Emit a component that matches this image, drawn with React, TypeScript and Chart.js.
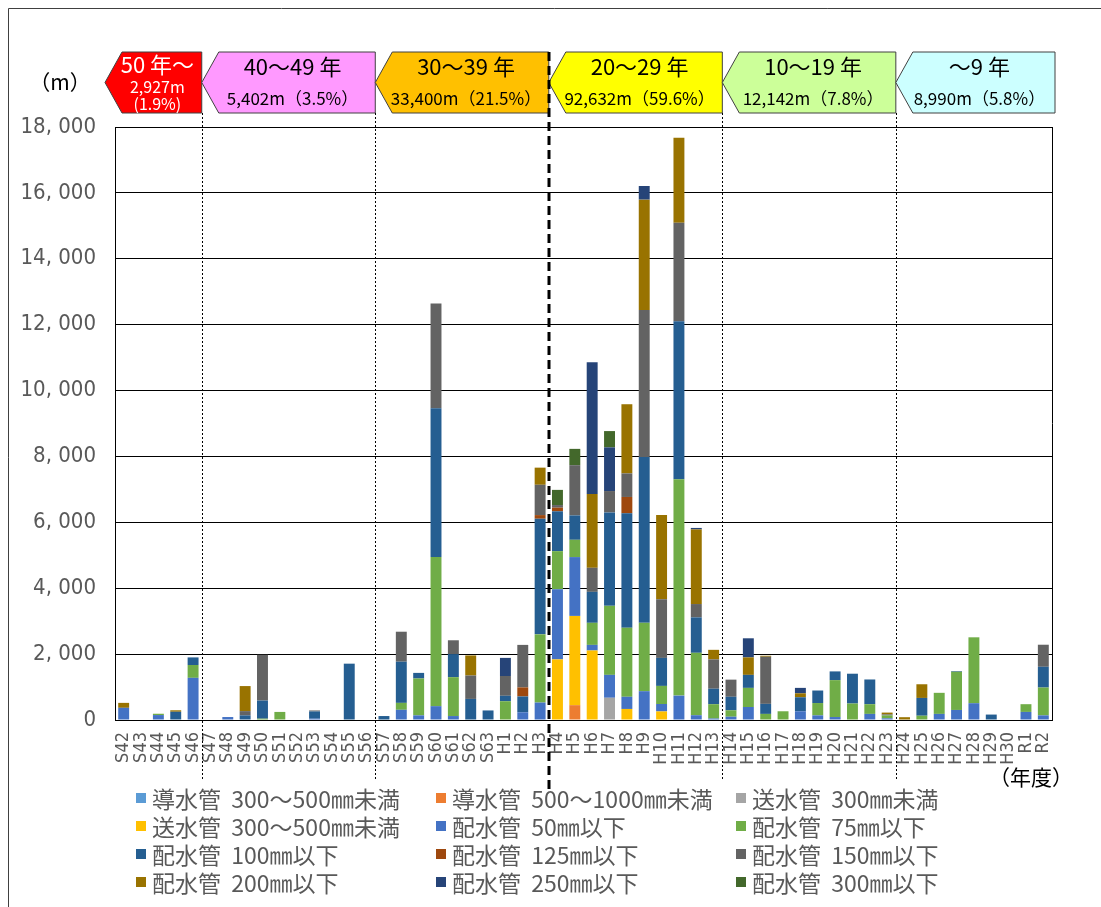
import React, { useEffect, useRef } from "react";
import { Chart, registerables } from "chart.js";

Chart.register(...registerables);

// ---------- data ----------
const categories = [
  "S42", "S43", "S44", "S45", "S46", "S47", "S48", "S49", "S50", "S51",
  "S52", "S53", "S54", "S55", "S56", "S57", "S58", "S59", "S60", "S61",
  "S62", "S63", "H1", "H2", "H3", "H4", "H5", "H6", "H7", "H8",
  "H9", "H10", "H11", "H12", "H13", "H14", "H15", "H16", "H17", "H18",
  "H19", "H20", "H21", "H22", "H23", "H24", "H25", "H26", "H27", "H28",
  "H29", "H30", "R1", "R2",
];

const dou300to500 = [
  0, 0, 0, 0, 0, 0, 0, 0, 0, 0,
  0, 0, 0, 0, 0, 0, 0, 0, 0, 0,
  0, 0, 0, 0, 0, 0, 0, 0, 0, 0,
  0, 0, 0, 0, 0, 0, 0, 0, 0, 0,
  0, 0, 0, 0, 0, 0, 0, 0, 0, 0,
  0, 0, 0, 0,
];
const dou500to1000 = [
  0, 0, 0, 0, 0, 0, 0, 0, 0, 0,
  0, 0, 0, 0, 0, 0, 0, 0, 0, 0,
  0, 0, 0, 0, 0, 0, 450, 0, 0, 0,
  0, 0, 0, 0, 0, 0, 0, 0, 0, 0,
  0, 0, 0, 0, 0, 0, 0, 0, 0, 0,
  0, 0, 0, 0,
];
const sou300under = [
  0, 0, 0, 0, 0, 0, 0, 0, 0, 0,
  0, 0, 0, 0, 0, 0, 0, 0, 0, 0,
  0, 0, 0, 0, 0, 0, 0, 0, 675, 0,
  0, 0, 0, 0, 0, 0, 0, 0, 0, 0,
  0, 0, 0, 0, 0, 0, 0, 0, 0, 0,
  0, 0, 0, 0,
];
const sou300to500 = [
  0, 0, 0, 0, 0, 0, 0, 0, 0, 0,
  0, 0, 0, 0, 0, 0, 0, 0, 0, 0,
  0, 0, 0, 0, 0, 1840, 2710, 2110, 0, 335,
  0, 260, 0, 0, 0, 0, 0, 0, 0, 0,
  0, 0, 0, 0, 0, 0, 0, 0, 0, 0,
  0, 0, 0, 0,
];
const hai50 = [
  370, 0, 150, 0, 1280, 0, 90, 0, 0, 0,
  0, 40, 0, 0, 0, 0, 310, 140, 420, 120,
  0, 0, 0, 235, 530, 2130, 1785, 170, 695, 370,
  875, 225, 740, 145, 45, 100, 395, 0, 0, 265,
  140, 90, 0, 185, 50, 0, 0, 185, 305, 510,
  0, 0, 245, 140,
];
const hai75 = [
  0, 0, 40, 0, 390, 0, 0, 0, 40, 245,
  0, 0, 0, 0, 0, 0, 210, 1120, 4530, 1180,
  0, 0, 570, 0, 2070, 1155, 525, 670, 2095, 2095,
  2075, 550, 6570, 1895, 435, 195, 580, 185, 265, 0,
  375, 1120, 500, 295, 90, 0, 130, 640, 1160, 2000,
  0, 0, 235, 845,
];
const hai100 = [
  0, 0, 0, 250, 230, 0, 0, 140, 550, 0,
  0, 220, 0, 1710, 0, 120, 1250, 170, 4510, 700,
  640, 290, 165, 480, 3510, 1210, 740, 940, 2835, 3475,
  5035, 850, 4790, 1075, 470, 410, 395, 305, 0, 425,
  380, 265, 905, 750, 0, 0, 540, 0, 20, 0,
  165, 0, 0, 630,
];
const hai125 = [
  0, 0, 0, 0, 0, 0, 0, 0, 0, 0,
  0, 0, 0, 0, 0, 0, 0, 0, 0, 0,
  0, 0, 0, 275, 110, 110, 0, 0, 0, 495,
  0, 0, 0, 0, 0, 0, 0, 0, 0, 0,
  0, 0, 0, 0, 0, 0, 0, 0, 0, 0,
  0, 0, 0, 0,
];
const hai150 = [
  0, 0, 0, 0, 0, 0, 0, 130, 1390, 0,
  0, 30, 0, 0, 0, 0, 910, 0, 3180, 420,
  710, 0, 600, 1290, 920, 80, 1525, 730, 650, 715,
  4460, 1780, 2990, 405, 890, 520, 0, 1430, 0, 0,
  0, 0, 0, 0, 30, 0, 0, 0, 0, 0,
  0, 0, 0, 670,
];
const hai200 = [
  150, 0, 0, 45, 0, 0, 0, 760, 0, 0,
  0, 0, 0, 0, 0, 0, 0, 0, 0, 0,
  610, 0, 0, 0, 520, 0, 0, 2240, 0, 2100,
  3350, 2560, 2580, 2265, 290, 0, 530, 30, 0, 120,
  0, 0, 0, 0, 55, 85, 415, 0, 0, 0,
  0, 0, 0, 0,
];
const hai250 = [
  0, 0, 0, 0, 0, 0, 0, 0, 0, 0,
  0, 0, 0, 0, 0, 0, 0, 0, 0, 0,
  0, 0, 550, 0, 0, 0, 0, 4000, 1325, 0,
  415, 0, 0, 45, 0, 0, 580, 0, 0, 165,
  0, 0, 0, 0, 0, 0, 0, 0, 0, 0,
  0, 0, 0, 0,
];
const hai300 = [
  0, 0, 0, 0, 0, 0, 0, 0, 0, 0,
  0, 0, 0, 0, 0, 0, 0, 0, 0, 0,
  0, 0, 0, 0, 0, 460, 495, 0, 495, 0,
  0, 0, 0, 0, 0, 0, 0, 0, 0, 0,
  0, 0, 0, 0, 0, 0, 0, 0, 0, 0,
  0, 0, 0, 0,
];

const seriesLabels = [
  "導水管  300～500㎜未満",
  "導水管  500～1000㎜未満",
  "送水管  300㎜未満",
  "送水管  300～500㎜未満",
  "配水管  50㎜以下",
  "配水管  75㎜以下",
  "配水管  100㎜以下",
  "配水管  125㎜以下",
  "配水管  150㎜以下",
  "配水管  200㎜以下",
  "配水管  250㎜以下",
  "配水管  300㎜以下",
];
const seriesValues = [
  dou300to500, dou500to1000, sou300under, sou300to500,
  hai50, hai75, hai100, hai125, hai150, hai200, hai250, hai300,
];
const seriesColors = [
  "#5B9BD5", "#ED7D31", "#A5A5A5", "#FFC000",
  "#4472C4", "#70AD47", "#255E91", "#9E480E",
  "#636363", "#997300", "#264478", "#43682B",
];

const yTicks = [0, 2000, 4000, 6000, 8000, 10000, 12000, 14000, 16000, 18000];

const bandTitles = ["50 年～", "40～49 年", "30～39 年", "20～29 年", "10～19 年", "～9 年"];
const bandLengths = ["2,927m", "5,402m", "33,400m", "92,632m", "12,142m", "8,990m"];
const bandShares = ["(1.9%)", "（3.5%）", "（21.5%）", "（59.6%）", "（7.8%）", "（5.8%）"];
const bandStarts = ["S42", "S47", "S57", "H4", "H14", "H24"];
const bandColors = ["#FF0000", "#FF99FF", "#FFC000", "#FFFF00", "#CCFF99", "#CCFFFF"];

const JP = '"Noto Sans CJK JP", "Noto Sans", sans-serif';
const NARROW = '"Liberation Sans Narrow", "DejaVu Sans Condensed", "Noto Sans CJK JP", sans-serif';

const decorPlugin = {
  id: "decor",
  afterDraw(chart: any) {
    const ctx = chart.ctx as CanvasRenderingContext2D;
    const area = chart.chartArea;
    const xs = chart.scales.x;
    const step = xs.getPixelForValue(1) - xs.getPixelForValue(0);
    const boundary = (i: number) => xs.getPixelForValue(i) - step / 2;
    ctx.save();

    // outer frame
    ctx.strokeStyle = "#404040";
    ctx.lineWidth = 1;
    ctx.beginPath();
    ctx.moveTo(8.5, 907);
    ctx.lineTo(8.5, 8.5);
    ctx.lineTo(1101, 8.5);
    ctx.stroke();

    // plot frame (right side)
    ctx.strokeStyle = "#000";
    ctx.beginPath();
    ctx.moveTo(Math.round(area.right) + 0.5, area.top);
    ctx.lineTo(Math.round(area.right) + 0.5, area.bottom);
    ctx.stroke();

    // banners
    const top = 52, bot = 113, mid = (top + bot) / 2;
    for (let b = 0; b < bandTitles.length; b++) {
      const s = categories.indexOf(bandStarts[b]);
      const e = b < bandStarts.length - 1 ? categories.indexOf(bandStarts[b + 1]) : categories.length;
      const tip = b === 0 ? area.left - 10 : boundary(s);
      const right = b === bandStarts.length - 1 ? area.right + 3 : boundary(e);
      ctx.beginPath();
      ctx.moveTo(tip, mid);
      ctx.lineTo(tip + 17, top);
      ctx.lineTo(right, top);
      ctx.lineTo(right, bot);
      ctx.lineTo(tip + 17, bot);
      ctx.closePath();
      ctx.fillStyle = bandColors[b];
      ctx.fill();
      ctx.strokeStyle = "#404040";
      ctx.lineWidth = 1;
      ctx.stroke();

      const cx = (tip + right) / 2 + 4;
      ctx.textAlign = "center";
      ctx.textBaseline = "middle";
      if (b === 0) {
        ctx.fillStyle = "#FFFFFF";
        ctx.font = `22px ${JP}`;
        ctx.fillText(bandTitles[b], cx, 65);
        ctx.font = `16px ${JP}`;
        ctx.fillText(bandLengths[b], cx, 87);
        ctx.fillText(bandShares[b], cx, 104);
      } else {
        ctx.fillStyle = "#000000";
        ctx.font = `22px ${JP}`;
        ctx.fillText(bandTitles[b], cx, 67);
        ctx.font = `17px ${JP}`;
        ctx.fillText(bandLengths[b] + bandShares[b], cx, 99);
      }
    }

    // dividers
    for (let b = 1; b < bandStarts.length; b++) {
      const x = Math.round(boundary(categories.indexOf(bandStarts[b])));
      ctx.beginPath();
      if (bandStarts[b] === "H4") {
        ctx.strokeStyle = "#000";
        ctx.lineWidth = 3;
        ctx.setLineDash([9, 5]);
        ctx.moveTo(x, top);
        ctx.lineTo(x, 790);
      } else {
        ctx.strokeStyle = "#000";
        ctx.lineWidth = 1;
        ctx.setLineDash([2, 2]);
        ctx.moveTo(x + 0.5, bot);
        ctx.lineTo(x + 0.5, 780);
      }
      ctx.stroke();
    }
    ctx.setLineDash([]);

    // axis unit labels
    ctx.fillStyle = "#000";
    ctx.font = `21px ${JP}`;
    ctx.textAlign = "center";
    ctx.textBaseline = "middle";
    ctx.fillText("（m）", 60, 82);
    ctx.fillText("（年度）", 1031, 777);

    // legend
    ctx.font = `23px ${JP}`;
    ctx.textAlign = "left";
    chart.data.datasets.forEach((ds: any, i: number) => {
      const col = i % 3;
      const row = Math.floor(i / 3);
      const bx = 136 + col * 300;
      const yc = 798 + row * 28;
      ctx.fillStyle = ds.backgroundColor;
      ctx.fillRect(bx, yc - 5, 10, 10);
      ctx.fillStyle = "#595959";
      ctx.fillText(ds.label, bx + 16, yc + 1);
    });
    ctx.restore();
  },
};

export default function App() {
  const ref = useRef<HTMLCanvasElement | null>(null);
  useEffect(() => {
    if (!ref.current) return;
    const chart = new Chart(ref.current, {
      type: "bar",
      data: {
        labels: categories,
        datasets: seriesLabels.map((label, i) => ({
          label,
          data: seriesValues[i],
          backgroundColor: seriesColors[i],
          borderWidth: 0,
          barPercentage: 0.63,
          categoryPercentage: 1.0,
        })),
      },
      options: {
        responsive: false,
        animation: false,
        layout: { padding: { left: 0, top: 127, right: 49, bottom: 127 } },
        plugins: {
          legend: { display: false },
          tooltip: { enabled: false },
        },
        scales: {
          x: {
            stacked: true,
            grid: { display: false, drawTicks: false },
            border: { color: "#000", width: 1 },
            ticks: {
              autoSkip: false,
              maxRotation: 90,
              minRotation: 90,
              color: "#595959",
              padding: 12,
              font: { family: NARROW, size: 18 },
            },
            afterFit: (s: any) => {
              s.height = 60;
            },
          },
          y: {
            stacked: true,
            min: yTicks[0],
            max: yTicks[yTicks.length - 1],
            afterBuildTicks: (s: any) => {
              s.ticks = yTicks.map((v) => ({ value: v }));
            },
            grid: { color: "#000", drawTicks: false, lineWidth: 1 },
            border: { color: "#000", width: 1 },
            ticks: {
              color: "#595959",
              padding: 19,
              font: { family: NARROW, size: 22 },
              callback: (v: any) => Number(v).toLocaleString("en-US").replace(",", ", "),
            },
            afterFit: (s: any) => {
              s.width = 115;
            },
          },
        },
      },
      plugins: [decorPlugin],
    });
    return () => chart.destroy();
  }, []);
  return (
    <canvas
      ref={ref}
      width={1101}
      height={907}
      style={{ position: "fixed", left: 0, top: 0, width: 1101, height: 907 }}
    />
  );
}
